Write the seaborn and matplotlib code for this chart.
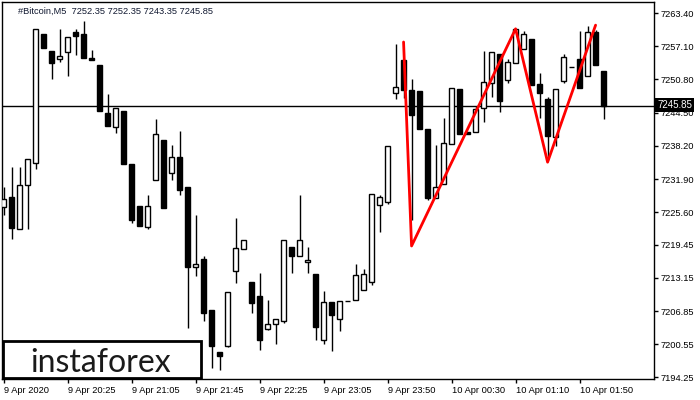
import matplotlib
matplotlib.use("Agg")
import matplotlib.pyplot as plt
from matplotlib.patches import Rectangle
import seaborn as sns
import numpy as np
import pandas as pd

# M5 candles (oldest first)
opens = [7226.60, 7228.49, 7222.42, 7230.77, 7234.94, 7259.42, 7256.19, 7254.68, 7256.00, 7259.80,
         7259.42, 7254.87, 7253.54, 7244.43, 7241.77, 7244.81, 7234.75, 7226.78, 7222.80, 7231.72,
         7239.31, 7233.05, 7236.08, 7230.39, 7215.21, 7216.73, 7207.05, 7199.08, 7200.22, 7214.45,
         7218.63, 7212.37, 7209.71, 7203.45, 7204.40, 7204.97, 7219.01, 7217.30, 7216.16, 7213.88,
         7201.36, 7208.57, 7205.35, 7208.76, 7208.95, 7210.85, 7212.37, 7226.97, 7227.54, 7248.22,
         7254.49, 7248.79, 7248.60, 7241.39, 7228.30, 7230.96, 7238.55, 7248.98, 7240.83, 7240.83,
         7245.38, 7250.12, 7255.62, 7250.69, 7253.92, 7256.57, 7258.47, 7249.93, 7247.09, 7239.88,
         7250.50, 7253.16, 7254.68, 7251.45, 7259.80, 7252.35]
highs = [7230.39, 7234.18, 7234.18, 7235.70, 7260.37, 7259.42, 7256.19, 7260.37, 7258.85, 7260.37,
         7261.89, 7256.38, 7253.54, 7248.03, 7245.38, 7244.81, 7234.75, 7226.78, 7228.87, 7243.29,
         7239.31, 7238.36, 7241.02, 7230.39, 7225.08, 7217.30, 7207.05, 7199.08, 7210.47, 7224.51,
         7220.33, 7212.37, 7214.07, 7208.95, 7205.35, 7220.33, 7219.01, 7228.87, 7219.01, 7213.88,
         7210.66, 7208.57, 7208.76, 7208.76, 7215.78, 7214.83, 7229.06, 7228.87, 7238.17, 7257.52,
         7254.49, 7250.88, 7248.60, 7241.39, 7238.36, 7243.48, 7249.17, 7248.98, 7240.83, 7245.76,
         7256.19, 7256.00, 7255.62, 7254.68, 7260.37, 7259.99, 7258.47, 7252.02, 7247.47, 7248.98,
         7255.62, 7253.16, 7259.99, 7260.94, 7260.18, 7252.35]
lows = [7225.08, 7220.52, 7222.42, 7222.42, 7233.81, 7256.76, 7250.88, 7254.11, 7251.45, 7255.43,
        7254.87, 7254.49, 7244.81, 7241.96, 7240.64, 7234.75, 7223.56, 7222.99, 7222.42, 7231.72,
        7226.41, 7231.72, 7228.87, 7203.64, 7213.50, 7204.97, 7196.05, 7195.67, 7200.03, 7212.18,
        7218.63, 7206.48, 7199.46, 7203.26, 7200.60, 7204.59, 7214.07, 7217.30, 7214.07, 7201.36,
        7200.60, 7199.27, 7203.07, 7208.76, 7208.95, 7210.85, 7211.80, 7221.85, 7227.16, 7247.09,
        7247.28, 7224.13, 7241.39, 7227.92, 7228.30, 7230.96, 7238.55, 7240.45, 7240.45, 7240.83,
        7242.72, 7247.47, 7244.62, 7250.12, 7253.92, 7256.57, 7249.74, 7243.48, 7235.51, 7238.17,
        7250.12, 7253.16, 7249.17, 7251.45, 7253.54, 7243.35]
closes = [7228.11, 7222.61, 7230.77, 7235.70, 7260.37, 7256.76, 7253.92, 7255.25, 7258.85, 7259.04,
          7254.87, 7254.49, 7244.81, 7241.96, 7245.38, 7234.75, 7224.13, 7222.99, 7226.78, 7240.45,
          7226.41, 7236.08, 7229.82, 7215.21, 7215.78, 7206.48, 7200.22, 7198.33, 7210.47, 7218.82,
          7220.33, 7208.38, 7201.36, 7204.40, 7205.35, 7220.33, 7217.30, 7220.33, 7216.54, 7203.83,
          7208.57, 7206.10, 7208.76, 7208.76, 7213.69, 7213.88, 7229.06, 7228.49, 7238.17, 7249.36,
          7248.79, 7244.05, 7241.39, 7228.30, 7230.39, 7238.74, 7249.17, 7240.45, 7240.45, 7245.19,
          7250.31, 7256.00, 7246.71, 7254.11, 7260.37, 7259.42, 7249.74, 7248.22, 7240.07, 7248.98,
          7255.06, 7253.16, 7249.17, 7259.80, 7253.54, 7245.85]

# time axis labels (every 8th bar)
tick_bars = [0, 8, 16, 24, 32, 40, 48, 56, 64, 72]
tick_labels = ["9 Apr 2020", "9 Apr 20:25", "9 Apr 21:05", "9 Apr 21:45", "9 Apr 22:25",
               "9 Apr 23:05", "9 Apr 23:50", "10 Apr 00:30", "10 Apr 01:10", "10 Apr 01:50"]
price_ticks = [7263.40, 7257.10, 7250.80, 7244.50, 7238.20, 7231.90,
               7225.60, 7219.45, 7213.15, 7206.85, 7200.55, 7194.25]

# red pattern line
zz_bars = [50, 51, 64, 68, 74]
zz_prices = [7257.9, 7219.2, 7260.4, 7235.1, 7261.1]

last_price = 7245.85
header = "#Bitcoin,M5  7252.35 7252.35 7243.35 7245.85"

sns.set_style("white")
plt.rcParams['font.family'] = ['Liberation Sans', 'DejaVu Sans']

fig = plt.figure(figsize=(7, 4), dpi=100)
ax = fig.add_axes([2 / 700, 21 / 400, 652 / 700, 377 / 400])

df = pd.DataFrame({"o": opens, "h": highs, "l": lows, "c": closes})
df["bar"] = np.arange(len(df))
up = df["c"] >= df["o"]

# last price line
ax.axhline(last_price, color="black", lw=1, zorder=1)

# wicks + bodies
ax.vlines(df["bar"], df["l"], df["h"], color="black", lw=1, zorder=2)
ax.bar(df["bar"], (df["c"] - df["o"]).abs(), bottom=df[["o", "c"]].min(axis=1),
       width=0.62, color=np.where(up, "white", "black"), edgecolor="black",
       linewidth=1, zorder=3)

sns.lineplot(x=zz_bars, y=zz_prices, color="red", lw=2, ax=ax, zorder=4)

ax.set_xlim(-0.19, 81.3)
ax.set_ylim(7193.96, 7265.49)

ax.yaxis.tick_right()
ax.set_yticks(price_ticks)
ax.set_yticklabels([f"{p:.2f}" for p in price_ticks])
ax.set_xticks(tick_bars)
ax.set_xticklabels(tick_labels, ha="left")
ax.tick_params(axis="both", direction="out", length=3, width=1, color="black",
               labelsize=6.7, labelcolor="black", pad=2)
ax.tick_params(axis="y", right=True, left=False)
ax.tick_params(axis="x", bottom=True)
ax.set_xlabel("")
ax.set_ylabel("")
for s in ax.spines.values():
    s.set_visible(True)
    s.set_color("black")
    s.set_linewidth(1)

# header text
fig.text(18 / 700, 1 - 11 / 400, header, va="center", ha="left", fontsize=6.7, color="#101830")

# last price label on the price scale
fig.text(657 / 700, 1 - 105 / 400, f"{last_price:.2f}", va="center", ha="left",
         fontsize=7, color="white",
         bbox=dict(facecolor="black", edgecolor="none", pad=1.6), zorder=10)

# logo box
fig.add_artist(Rectangle((3 / 700, 22 / 400), 198 / 700, 37 / 400, transform=fig.transFigure,
                         facecolor="white", edgecolor="black", lw=2, zorder=8))
fig.text(101 / 700, 28 / 400, "instaforex", ha="center", va="baseline",
         fontsize=23, fontweight="normal", family=["Lato", "DejaVu Sans"],
         color="#1a1a1a", zorder=9)

fig.savefig("out.png", dpi=100)
